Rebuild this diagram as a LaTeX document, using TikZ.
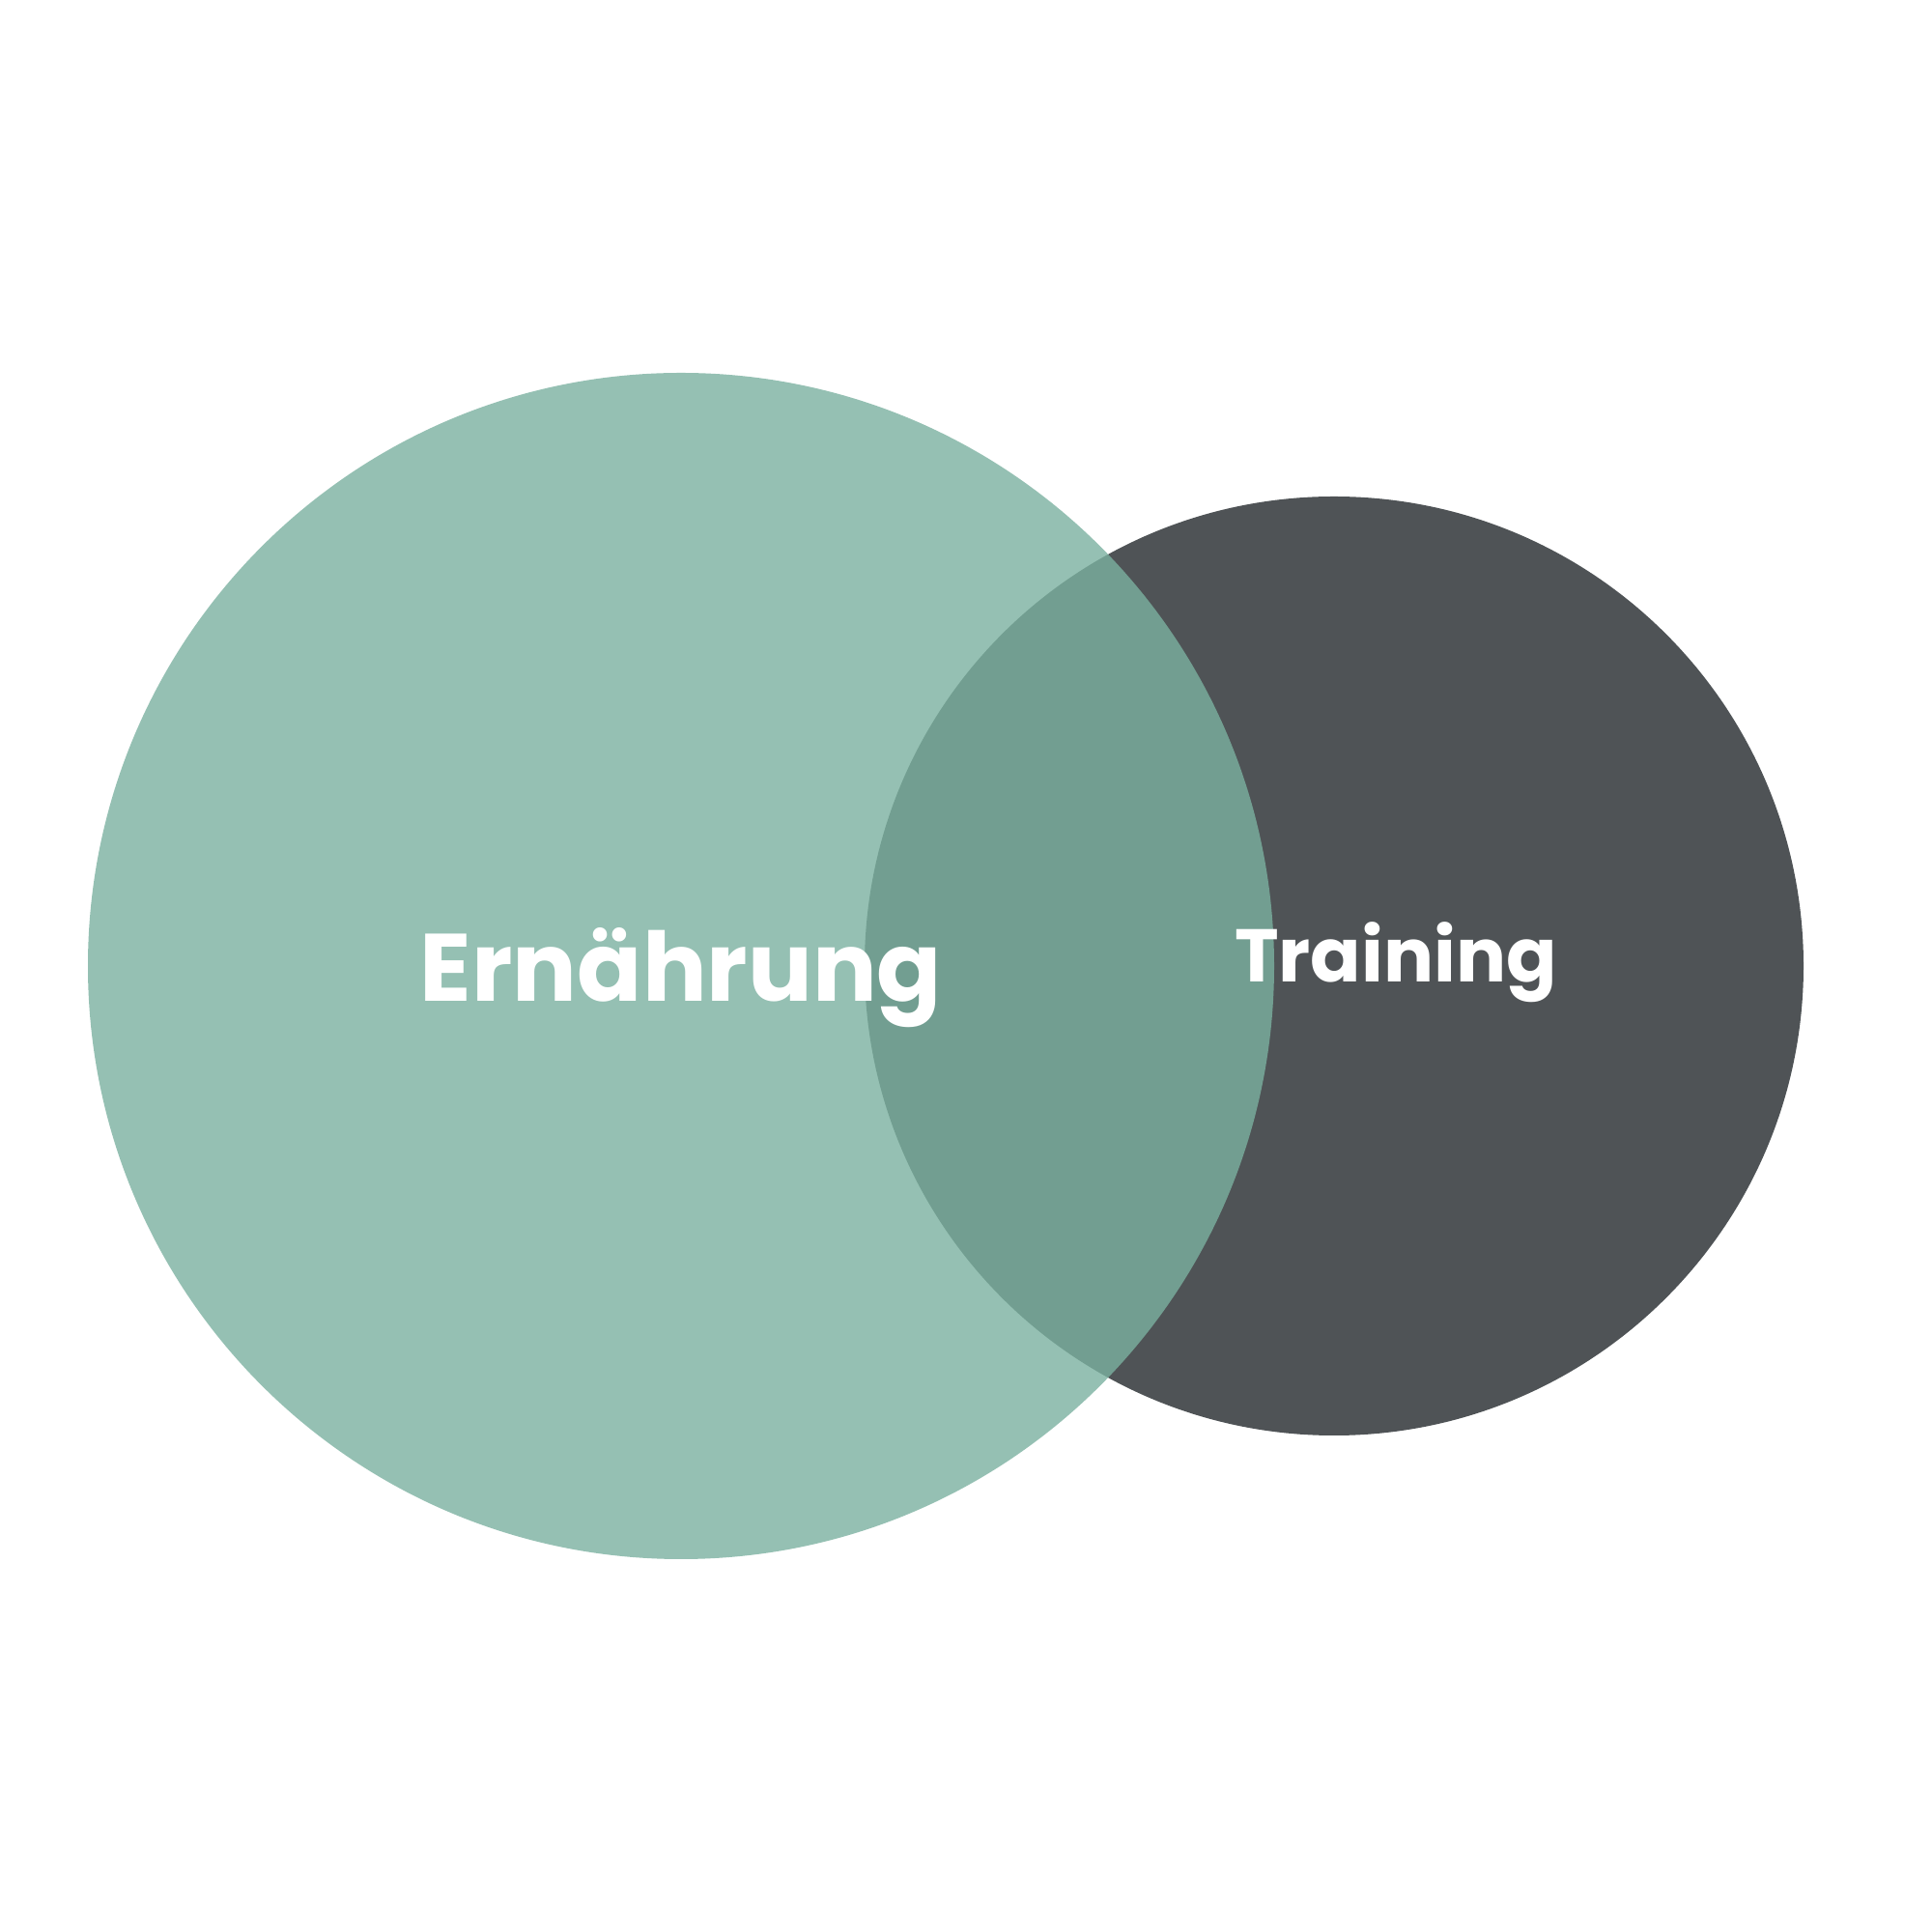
\documentclass[tikz,border=0pt]{standalone}
\usepackage{fontspec}
\setmainfont{Poppins}
\usetikzlibrary{positioning}

\definecolor{sage}{RGB}{123,177,160}
\definecolor{slate}{RGB}{79,83,86}

\begin{document}
\begin{tikzpicture}[
	ring/.style = {% Venn circle
		circle, inner sep=0mm, outer sep=0mm, minimum size=#1},
	lbl/.style = {% white caption
		text=white, inner sep=0mm, anchor=base}]

\useasboundingbox[fill=white] (0,0) rectangle (20,20);
	% circles
	\node[ring=9.72cm, fill=slate] (training) at (13.81,10) {};
	\node[ring=12.28cm, fill=sage, fill opacity=0.8] (ernaehrung) at (7.05,10) {};
	% captions
	\node[lbl, font=\bfseries\fontsize{28.2}{34}\selectfont] (E-1) at (ernaehrung.center |- 0,9.63) {Ernährung};
	\node[lbl, font=\bfseries\fontsize{22}{26}\selectfont] (T-1) at (14.45,9.83) {Training};

\end{tikzpicture}
\end{document}
